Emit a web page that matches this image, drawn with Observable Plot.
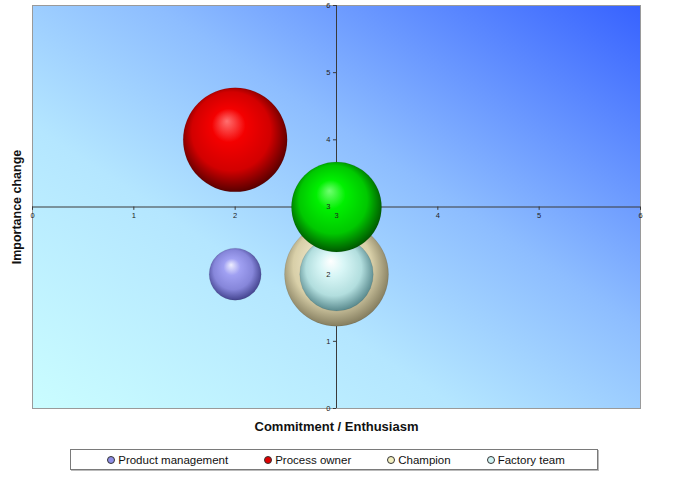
<!DOCTYPE html>
<html>
<head>
<meta charset="utf-8">
<script src="https://cdn.jsdelivr.net/npm/d3@7"></script>
<script src="https://cdn.jsdelivr.net/npm/@observablehq/plot@0.6"></script>
<style>
  html, body { margin: 0; padding: 0; background: #fff; }
  body { width: 674px; height: 477px; position: relative; font-family: "Liberation Sans", Arial, sans-serif; overflow: hidden; }
  #chart { position: absolute; left: 0; top: 0; }
  #legend {
    position: absolute; left: 70px; top: 449px; width: 528px; height: 19px;
    border: 1px solid #7a7a7a; box-shadow: 1px 1px 0 #bbb;
    display: flex; align-items: center; justify-content: center; gap: 36px;
    font-size: 11.5px; color: #111; background: #fff; padding-left: 4px; box-sizing: border-box; height: 21px;
  }
  .item { display: flex; align-items: center; white-space: nowrap; }
  .mk { width: 6px; height: 6px; border-radius: 50%; border: 1px solid #333; margin-right: 3px; }
</style>
</head>
<body>
<div id="chart"></div>
<div id="legend"></div>
<script>
// ---- data ----
const names   = ["Product management", "Process owner", "Champion", "Factory team", "Series 5"];
const xValues = [2, 2, 3, 3, 3];
const yValues = [2, 4, 2, 2, 3];
const sizes   = [1, 4, 4, 2, 3];
const legendNames = ["Product management", "Process owner", "Champion", "Factory team"];
const xTicks = [0, 1, 2, 3, 4, 5, 6];
const yTicks = [0, 1, 2, 3, 4, 5, 6];
const xLabel = "Commitment / Enthusiasm";
const yLabel = "Importance change";

// ---- styles ----
const sphere = {
  "Product management": {hi: "#eeeeff", base: "#a0a0f2", mid: "#8686da", edge: "#454590", mark: "#8e8ee6"},
  "Process owner":      {hi: "#ff7070", base: "#f40000", mid: "#d20000", edge: "#5a0000", mark: "#e00000"},
  "Champion":           {hi: "#fffff4", base: "#eee6c8", mid: "#d8cfa8", edge: "#857e60", mark: "#f4f0c0"},
  "Factory team":       {hi: "#ffffff", base: "#d8f6f6", mid: "#b2dede", edge: "#5a8a8e", mark: "#d0f4f4"},
  "Series 5":           {hi: "#70ff70", base: "#00f000", mid: "#00c800", edge: "#005800", mark: "#00e000"}
};

const data = names.map((n, i) => ({name: n, x: xValues[i], y: yValues[i], size: sizes[i], fill: `url(#sph${i})`}));

const chart = Plot.plot({
  width: 674,
  height: 440,
  marginLeft: 32,
  marginRight: 34,
  marginTop: 5,
  marginBottom: 32,
  x: {domain: [0, 6], axis: null},
  y: {domain: [0, 6], axis: null},
  r: {domain: [0, 4], range: [0, 52]},
  color: {type: "identity"},
  style: {fontFamily: "'Liberation Sans', Arial, sans-serif", background: "transparent"},
  marks: [
    Plot.frame({fill: "url(#bgGrad)", stroke: "#9a9a9a", strokeWidth: 1}),
    Plot.ruleY([3], {x1: 0, x2: 6, stroke: "#3a3a3a", strokeWidth: 1}),
    Plot.ruleX([3], {y1: 0, y2: 6, stroke: "#3a3a3a", strokeWidth: 1}),
    Plot.ruleX(xTicks, {x: d => d, y1: 3, y2: 2.95, stroke: "#3a3a3a"}),
    Plot.ruleY(yTicks, {y: d => d, x1: 3, x2: 2.97, stroke: "#3a3a3a"}),
    Plot.dot(data, {x: "x", y: "y", r: "size", fill: "fill", sort: null, stroke: "rgba(0,0,0,0.15)", strokeWidth: 0.5}),
    Plot.text(xTicks, {x: d => d, y: 3, dy: 9, text: d => String(d), fontSize: 7.5, fill: "#222"}),
    Plot.text(yTicks, {x: 3, y: d => d, dx: -6, text: d => String(d), textAnchor: "end", fontSize: 7.5, fill: "#222"}),
    Plot.text([xLabel], {frameAnchor: "bottom", dy: 18, lineAnchor: "middle", text: d => d, fontSize: 13, fontWeight: "bold", fill: "#111"}),
    Plot.text([yLabel], {frameAnchor: "left", dx: -16, rotate: -90, textAnchor: "middle", lineAnchor: "middle", text: d => d, fontSize: 12.5, fontWeight: "bold", fill: "#111"})
  ]
});

// gradients
const defs = d3.select(chart).insert("defs", ":first-child");
const bg = defs.append("linearGradient").attr("id", "bgGrad")
  .attr("x1", 0).attr("y1", 1).attr("x2", 1).attr("y2", 0);
[[0, "#cafdff"], [0.35, "#b4e6ff"], [0.6, "#8dbdff"], [1, "#3762ff"]]
  .forEach(([o, c]) => bg.append("stop").attr("offset", o).attr("stop-color", c));

names.forEach((n, i) => {
  const s = sphere[n];
  const g = defs.append("radialGradient").attr("id", `sph${i}`)
    .attr("cx", 0.48).attr("cy", 0.46).attr("r", 0.54).attr("fx", 0.42).attr("fy", 0.32);
  [[0, s.hi], [0.3, s.base], [0.7, s.mid], [1, s.edge]]
    .forEach(([o, c]) => g.append("stop").attr("offset", o).attr("stop-color", c));
});

document.getElementById("chart").appendChild(chart);

// legend
const legend = d3.select("#legend");
legendNames.forEach(n => {
  const it = legend.append("div").attr("class", "item");
  it.append("span").attr("class", "mk").style("background", sphere[n].mark);
  it.append("span").text(n);
});
</script>
</body>
</html>
